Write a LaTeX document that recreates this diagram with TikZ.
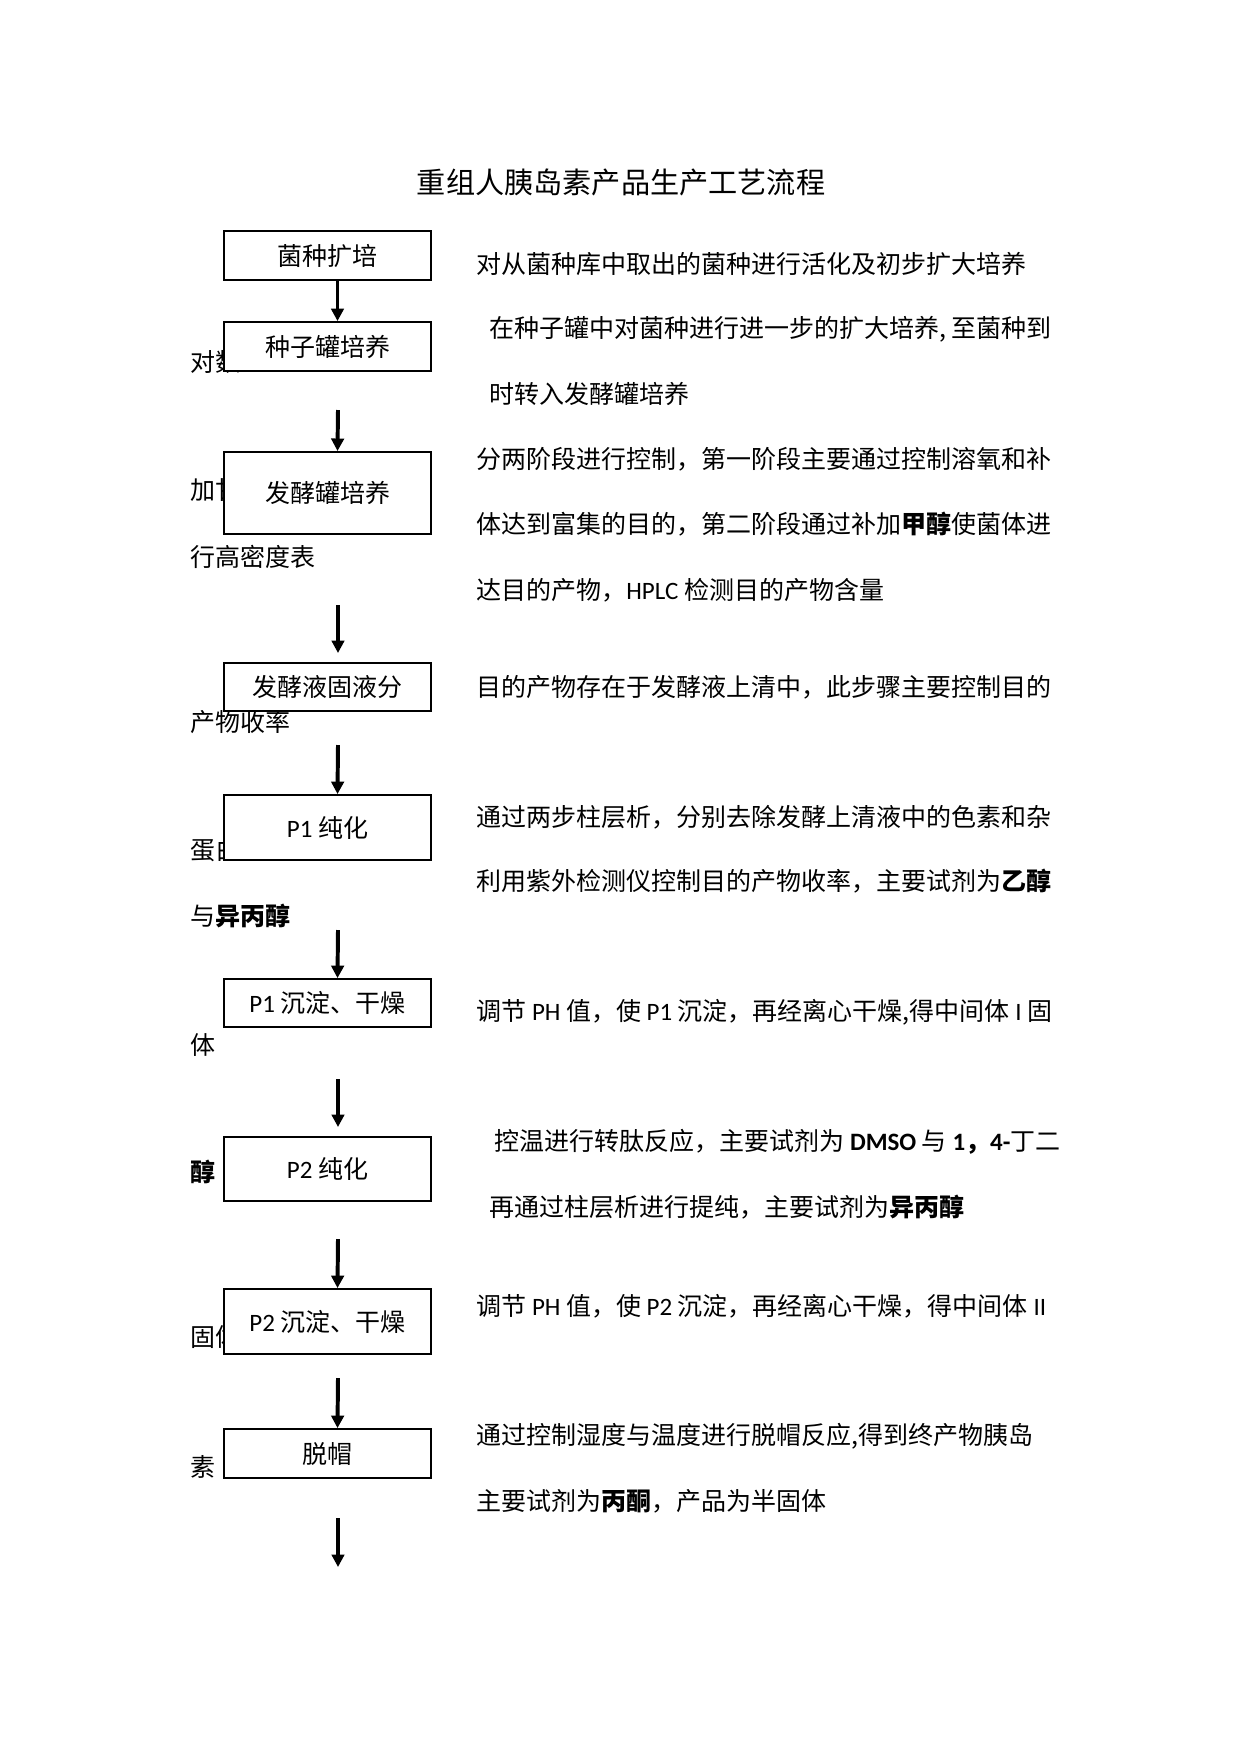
\documentclass[tikz,border=0pt]{standalone}
\usepackage{fontspec}
\setmainfont{Noto Sans CJK SC}
\newfontfamily\latfont{Carlito}
\newcommand{\la}[1]{{\latfont #1}}
\usetikzlibrary{arrows.meta,positioning,calc}

\begin{document}
\begin{tikzpicture}[x=0.48pt,y=-0.48pt,
    stepbox/.style={draw, line width=0.9pt, fill=white, minimum width=99.4pt, inner sep=0pt,
        font=\fontsize{12pt}{14pt}\selectfont},
    desc/.style={anchor=west, inner sep=0pt, font=\fontsize{12pt}{14pt}\selectfont},
    arr/.style={line width=1.9pt, -{Triangle[width=6pt,length=6pt]}}]
    \useasboundingbox (0,0) rectangle (1241,1754);

    % Title
    \node[font=\fontsize{14pt}{16pt}\selectfont] (title) at (621,182) {重组人胰岛素产品生产工艺流程};

    % Left margin text (partly behind the boxes)
    \node[desc] (l1) at (190,362) {对数};
    \node[desc] (l2) at (190,490) {加甘};
    \node[desc] (l3) at (190,557) {行高密度表};
    \node[desc] (l4) at (190,722) {产物收率};
    \node[desc] (l5) at (190,850) {蛋白};
    \node[desc] (l6) at (190,916) {与\textbf{异丙醇}};
    \node[desc] (l7) at (190,1045) {体};
    \node[desc] (l8) at (190,1172) {\textbf{醇}};
    \node[desc] (l9) at (190,1337) {固体};
    \node[desc] (l10) at (190,1467) {素};

    % Process boxes
    \node[stepbox, minimum height=23.5pt] (b1) at (327.5,255.5) {菌种扩培};
    \node[stepbox, minimum height=23.5pt] (b2) at (327.5,346.5) {种子罐培养};
    \node[stepbox, minimum height=39.4pt] (b3) at (327.5,493) {发酵罐培养};
    \node[stepbox, minimum height=23pt] (b4) at (327.5,687) {发酵液固液分};
    \node[stepbox, minimum height=31.2pt] (b5) at (327.5,827.5) {\la{P1} 纯化};
    \node[stepbox, minimum height=23pt] (b6) at (327.5,1003) {\la{P1} 沉淀、干燥};
    \node[stepbox, minimum height=30.7pt] (b7) at (327.5,1169) {\la{P2} 纯化};
    \node[stepbox, minimum height=31.2pt] (b8) at (327.5,1321.5) {\la{P2} 沉淀、干燥};
    \node[stepbox, minimum height=23.5pt] (b9) at (327.5,1453.5) {脱帽};

    % Arrows
    \coordinate (s2) at (338,410);
    \coordinate (s3) at (338,605);
    \coordinate (e3) at (338,653);
    \coordinate (s4) at (338,745);
    \coordinate (s5) at (338,930);
    \coordinate (s6) at (338,1079);
    \coordinate (e6) at (338,1127);
    \coordinate (s7) at (338,1239);
    \coordinate (s8) at (338,1378);
    \coordinate (s9) at (338,1518);
    \coordinate (e9) at (338,1567);
    \draw[arr] ([xshift=4.8pt]b1.south) -- ([xshift=4.8pt]b2.north);
    \draw[arr] (s2) -- ([xshift=4.8pt]b3.north);
    \draw[arr] (s3) -- (e3);
    \draw[arr] (s4) -- ([xshift=4.8pt]b5.north);
    \draw[arr] (s5) -- ([xshift=4.8pt]b6.north);
    \draw[arr] (s6) -- (e6);
    \draw[arr] (s7) -- ([xshift=4.8pt]b8.north);
    \draw[arr] (s8) -- ([xshift=4.8pt]b9.north);
    \draw[arr] (s9) -- (e9);

    % Right-hand descriptions
    \node[desc] (r1) at (476,264) {对从菌种库中取出的菌种进行活化及初步扩大培养};
    \node[desc] (r2) at (489,329) {在种子罐中对菌种进行进一步的扩大培养, 至菌种到};
    \node[desc] (r3) at (489,394) {时转入发酵罐培养};
    \node[desc] (r4) at (476,459) {分两阶段进行控制，第一阶段主要通过控制溶氧和补};
    \node[desc] (r5) at (476,524) {体达到富集的目的，第二阶段通过补加\textbf{甲醇}使菌体进};
    \node[desc] (r6) at (476,590) {达目的产物，\la{HPLC} 检测目的产物含量};
    \node[desc] (r7) at (476,687) {目的产物存在于发酵液上清中，此步骤主要控制目的};
    \node[desc] (r8) at (476,817) {通过两步柱层析，分别去除发酵上清液中的色素和杂};
    \node[desc] (r9) at (476,881) {利用紫外检测仪控制目的产物收率，主要试剂为\textbf{乙醇}};
    \node[desc] (r10) at (476,1012) {调节 \la{PH} 值，使 \la{P1} 沉淀，再经离心干燥,得中间体 \la{I} 固};
    \node[desc] (r11) at (494,1142) {控温进行转肽反应，主要试剂为 \textbf{\la{DMSO}} 与 \textbf{\la{1}，\la{4-}}丁二};
    \node[desc] (r12) at (489,1207) {再通过柱层析进行提纯，主要试剂为\textbf{异丙醇}};
    \node[desc] (r13) at (476,1306) {调节 \la{PH} 值，使 \la{P2} 沉淀，再经离心干燥，得中间体 \la{II}};
    \node[desc] (r14) at (476,1436) {通过控制湿度与温度进行脱帽反应,得到终产物胰岛};
    \node[desc] (r15) at (476,1501) {主要试剂为\textbf{丙酮}，产品为半固体};

\end{tikzpicture}
\end{document}
